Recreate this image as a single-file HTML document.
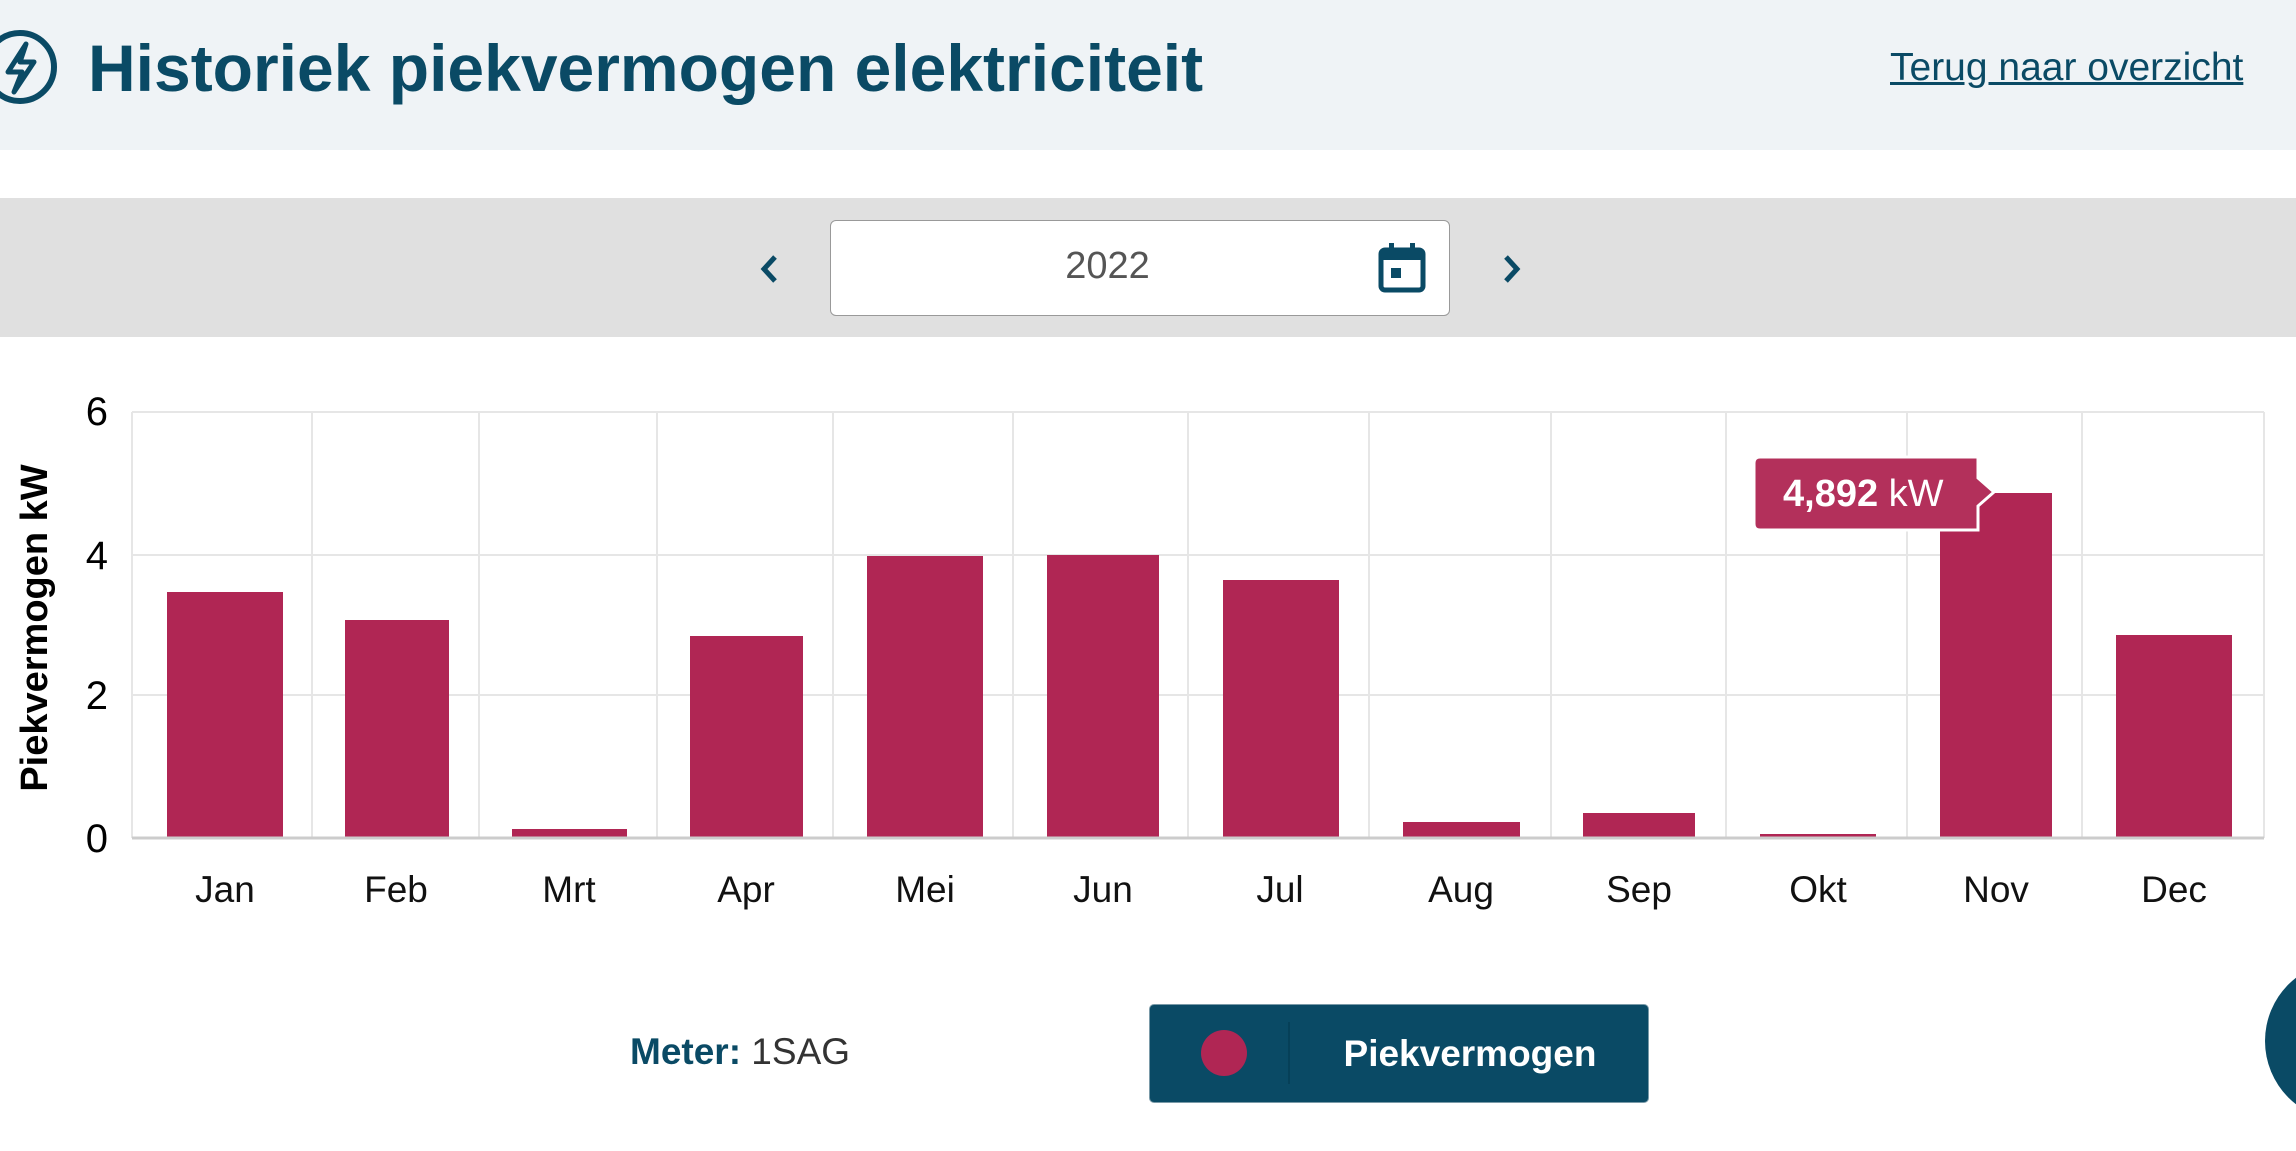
<!DOCTYPE html>
<html><head><meta charset="utf-8"><style>
body{margin:0;width:2296px;height:1151px;overflow:hidden;background:#fff;font-family:"Liberation Sans",sans-serif;position:relative}
.a{position:absolute}
</style></head><body>
<div class="a" style="left:0;top:0;width:2296px;height:150px;background:#eff3f6"></div>
<svg class="a" style="left:0;top:0" width="80" height="140"><circle cx="20" cy="67" r="34" fill="none" stroke="#0a4a65" stroke-width="6"/><path d="M26 44 L8 72 L22 72 L14 92 L34 62 L20 62 Z" fill="none" stroke="#0a4a65" stroke-width="5" stroke-linejoin="round"/></svg>
<div class="a" style="left:88px;top:28px;font-size:66px;font-weight:bold;color:#0a4a65;line-height:80px">Historiek piekvermogen elektriciteit</div>
<div class="a" style="left:1890px;top:45px;font-size:39px;color:#0a4a65;text-decoration:underline;line-height:46px">Terug naar overzicht</div>
<div class="a" style="left:0;top:198px;width:2296px;height:139px;background:#e0e0e0"></div>
<div class="a" style="left:830px;top:220px;width:618px;height:94px;background:#fff;border:1px solid #999;border-radius:6px"></div>
<div class="a" style="left:1000px;top:245px;width:215px;text-align:center;font-size:38px;color:#555">2022</div>
<svg class="a" style="left:1375px;top:240px" width="56" height="56"><rect x="6" y="10" width="42" height="40" rx="4" fill="none" stroke="#0a4a65" stroke-width="5"/><rect x="6" y="10" width="42" height="10" fill="#0a4a65"/><rect x="14" y="3" width="5" height="10" fill="#0a4a65"/><rect x="35" y="3" width="5" height="10" fill="#0a4a65"/><rect x="16" y="28" width="10" height="10" fill="#0a4a65"/></svg>
<svg class="a" style="left:755px;top:252px" width="30" height="34"><path d="M20 5 L9 17 L20 29" fill="none" stroke="#0a4a65" stroke-width="5"/></svg>
<svg class="a" style="left:1497px;top:252px" width="30" height="34"><path d="M9 5 L20 17 L9 29" fill="none" stroke="#0a4a65" stroke-width="5"/></svg>
<svg class="a" style="left:0;top:0" width="2296" height="1151" font-family="Liberation Sans, sans-serif">
<g stroke="#e6e6e6" stroke-width="2">
<line x1="132" y1="412" x2="2264" y2="412"/><line x1="132" y1="555" x2="2264" y2="555"/><line x1="132" y1="695" x2="2264" y2="695"/>
<line x1="132" y1="412" x2="132" y2="838"/><line x1="312" y1="412" x2="312" y2="838"/><line x1="479" y1="412" x2="479" y2="838"/><line x1="657" y1="412" x2="657" y2="838"/><line x1="833" y1="412" x2="833" y2="838"/><line x1="1013" y1="412" x2="1013" y2="838"/><line x1="1188" y1="412" x2="1188" y2="838"/><line x1="1369" y1="412" x2="1369" y2="838"/><line x1="1551" y1="412" x2="1551" y2="838"/><line x1="1726" y1="412" x2="1726" y2="838"/><line x1="1907" y1="412" x2="1907" y2="838"/><line x1="2082" y1="412" x2="2082" y2="838"/><line x1="2264" y1="412" x2="2264" y2="838"/>
</g>
<g fill="#b02654">
<rect x="167" y="592" width="116" height="246"/>
<rect x="345" y="620" width="104" height="218"/>
<rect x="512" y="829" width="115" height="9"/>
<rect x="690" y="636" width="113" height="202"/>
<rect x="867" y="556" width="116" height="282"/>
<rect x="1047" y="555" width="112" height="283"/>
<rect x="1223" y="580" width="116" height="258"/>
<rect x="1403" y="822" width="117" height="16"/>
<rect x="1583" y="813" width="112" height="25"/>
<rect x="1760" y="834" width="116" height="4"/>
<rect x="1940" y="493" width="112" height="345"/>
<rect x="2116" y="635" width="116" height="203"/>
</g>
<line x1="132" y1="838" x2="2264" y2="838" stroke="#ccc" stroke-width="3"/>
<g font-size="40" fill="#000" text-anchor="end"><text x="108" y="425">6</text><text x="108" y="569">4</text><text x="108" y="709">2</text><text x="108" y="852">0</text></g>
<text transform="translate(47,628) rotate(-90)" font-size="38" font-weight="bold" text-anchor="middle" fill="#000">Piekvermogen kW</text>
<g font-size="37" fill="#111" text-anchor="middle">
<text x="225" y="902">Jan</text><text x="396" y="902">Feb</text><text x="569" y="902">Mrt</text><text x="746" y="902">Apr</text><text x="925" y="902">Mei</text><text x="1103" y="902">Jun</text><text x="1280" y="902">Jul</text><text x="1461" y="902">Aug</text><text x="1639" y="902">Sep</text><text x="1818" y="902">Okt</text><text x="1996" y="902">Nov</text><text x="2174" y="902">Dec</text>
</g>
<path d="M1760 457 H1978 V478 L1994 492 L1978 506 V530 H1760 Q1754 530 1754 524 V463 Q1754 457 1760 457 Z" fill="#b3305b" stroke="#fff" stroke-width="3"/>
<text x="1783" y="506" font-size="38" fill="#fff"><tspan font-weight="bold">4,892</tspan> kW</text>
<circle cx="2345" cy="1041" r="80" fill="#0a4a65"/>
</svg>
<div class="a" style="left:630px;top:1030px;font-size:37px;color:#333;line-height:44px"><b style="color:#0a4a65">Meter:</b> 1SAG</div>
<div class="a" style="left:1149px;top:1004px;width:498px;height:97px;background:#0a4a65;border:1px solid #7a9aa8;border-radius:5px"></div>
<div class="a" style="left:1201px;top:1030px;width:46px;height:46px;border-radius:50%;background:#b02654"></div>
<div class="a" style="left:1288px;top:1022px;width:2px;height:62px;background:#064058"></div>
<div class="a" style="left:1300px;top:1031px;width:340px;text-align:center;font-size:37px;font-weight:bold;color:#fff;line-height:46px">Piekvermogen</div>
</body></html>
